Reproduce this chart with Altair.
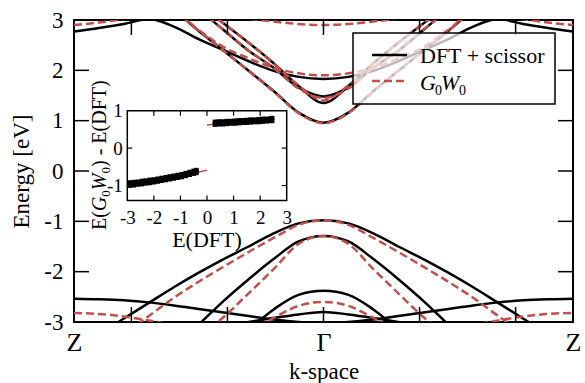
import altair as alt
import pandas as pd

# ---------------- data ----------------
K = [-1.0, -0.9, -0.8, -0.7, -0.6, -0.5, -0.4, -0.3, -0.2, -0.1, 0.0,
     0.1, 0.2, 0.3, 0.4, 0.5, 0.6, 0.7, 0.8, 0.9, 1.0]

DFT_P = [2.77, 2.84, 2.92, 3.02, 2.87, 2.62, 2.40, 2.18, 1.99, 1.87, 1.83, 1.87, 1.99, 2.18, 2.40, 2.62, 2.87, 3.02, 2.92, 2.84, 2.77]
DFT_Q = [3.90, 3.85, 3.70, 3.50, 3.20, 2.78, 2.39, 1.99, 1.59, 1.16, 0.96, 1.16, 1.59, 1.99, 2.39, 2.78, 3.20, 3.50, 3.70, 3.85, 3.90]
DFT_R = [4.00, 3.95, 3.85, 3.70, 3.50, 3.20, 2.80, 2.39, 2.05, 1.66, 1.48, 1.66, 2.05, 2.39, 2.80, 3.20, 3.50, 3.70, 3.85, 3.95, 4.00]
DFT_S = [4.10, 4.05, 3.95, 3.80, 3.60, 3.30, 2.93, 2.55, 2.14, 1.69, 1.35, 1.69, 2.14, 2.55, 2.93, 3.30, 3.60, 3.80, 3.95, 4.05, 4.10]
DFT_V1 = [-3.55, -3.25, -2.93, -2.62, -2.31, -2.02, -1.75, -1.50, -1.24, -1.04, -0.98, -1.04, -1.24, -1.50, -1.75, -2.02, -2.31, -2.62, -2.93, -3.25, -3.55]
DFT_V2 = [-4.40, -4.20, -4.00, -3.80, -3.50, -3.05, -2.58, -2.15, -1.75, -1.40, -1.29, -1.40, -1.75, -2.15, -2.58, -3.05, -3.50, -3.80, -4.00, -4.20, -4.40]
DFT_V3 = [-4.80, -4.60, -4.40, -4.20, -4.00, -3.80, -3.50, -3.15, -2.75, -2.46, -2.38, -2.46, -2.75, -3.15, -3.50, -3.80, -4.00, -4.20, -4.40, -4.60, -4.80]
DFT_V4 = [-3.70, -3.60, -3.50, -3.40, -3.30, -3.20, -3.10, -3.00, -2.92, -2.85, -2.80, -2.85, -2.92, -3.00, -3.10, -3.20, -3.30, -3.40, -3.50, -3.60, -3.70]
DFT_F = [-2.54, -2.55, -2.57, -2.61, -2.67, -2.74, -2.81, -2.88, -2.95, -3.00, -3.02, -3.00, -2.95, -2.88, -2.81, -2.74, -2.67, -2.61, -2.57, -2.55, -2.54]

GW_P = [2.90, 2.95, 3.02, 3.10, 3.15, 2.80, 2.46, 2.24, 2.05, 1.94, 1.90, 1.94, 2.05, 2.24, 2.46, 2.80, 3.15, 3.10, 3.02, 2.95, 2.90]
GW_Q = [3.90, 3.85, 3.70, 3.50, 3.20, 2.78, 2.39, 1.99, 1.58, 1.15, 0.95, 1.15, 1.58, 1.99, 2.39, 2.78, 3.20, 3.50, 3.70, 3.85, 3.90]
GW_R = [4.00, 3.95, 3.85, 3.70, 3.50, 3.20, 2.80, 2.39, 2.05, 1.64, 1.45, 1.64, 2.05, 2.39, 2.80, 3.20, 3.50, 3.70, 3.85, 3.95, 4.00]
GW_S = [4.10, 4.05, 3.95, 3.80, 3.60, 3.30, 2.93, 2.55, 2.14, 1.70, 1.40, 1.70, 2.14, 2.55, 2.93, 3.30, 3.60, 3.80, 3.95, 4.05, 4.10]
GW_T = [3.80, 3.70, 3.60, 3.50, 3.40, 3.25, 3.12, 3.03, 2.97, 2.92, 2.90, 2.92, 2.97, 3.03, 3.12, 3.25, 3.40, 3.50, 3.60, 3.70, 3.80]
GW_V1 = [-3.75, -3.50, -3.22, -2.88, -2.52, -2.20, -1.90, -1.61, -1.33, -1.07, -0.98, -1.07, -1.33, -1.61, -1.90, -2.20, -2.52, -2.88, -3.22, -3.50, -3.75]
GW_V2 = [-4.60, -4.40, -4.20, -4.00, -3.70, -3.30, -2.90, -2.43, -1.95, -1.45, -1.29, -1.45, -1.95, -2.43, -2.90, -3.30, -3.70, -4.00, -4.20, -4.40, -4.60]
GW_V3 = [-4.80, -4.60, -4.40, -4.20, -4.00, -3.80, -3.50, -3.20, -2.92, -2.68, -2.60, -2.68, -2.92, -3.20, -3.50, -3.80, -4.00, -4.20, -4.40, -4.60, -4.80]
GW_F = [-2.82, -2.84, -2.89, -2.97, -3.06, -3.15, -3.20, -3.22, -3.24, -3.25, -3.25, -3.25, -3.24, -3.22, -3.20, -3.15, -3.06, -2.97, -2.89, -2.84, -2.82]

K_TICKS = [-0.77, -0.385, 0.0, 0.385, 0.77]
E_TICKS = [-2, -1, 0, 1, 2]
E_LABELS = [-3, -2, -1, 0, 1, 2, 3]
K_LABEL_POS = [-1, 0, 1]

# inset data
IN_LO_X = [-2.9, -2.75, -2.6, -2.45, -2.3, -2.15, -2.0, -1.85, -1.7, -1.55, -1.4, -1.25, -1.1, -0.95, -0.8, -0.65, -0.5, -0.4]
IN_LO_Y1 = [-0.92, -0.91, -0.90, -0.88, -0.87, -0.85, -0.84, -0.82, -0.80, -0.78, -0.76, -0.74, -0.72, -0.70, -0.67, -0.64, -0.61, -0.59]
IN_LO_Y2 = [-1.00, -0.99, -0.97, -0.96, -0.94, -0.93, -0.91, -0.89, -0.87, -0.85, -0.83, -0.81, -0.79, -0.77, -0.74, -0.71, -0.68, -0.66]
IN_HI_X = [0.3, 0.45, 0.6, 0.75, 0.9, 1.05, 1.2, 1.35, 1.5, 1.65, 1.8, 1.95, 2.1, 2.25, 2.4, 2.45]
IN_HI_Y1 = [0.70, 0.71, 0.71, 0.72, 0.72, 0.73, 0.74, 0.74, 0.75, 0.76, 0.76, 0.77, 0.78, 0.78, 0.79, 0.80]
IN_HI_Y2 = [0.63, 0.64, 0.64, 0.65, 0.66, 0.66, 0.67, 0.68, 0.68, 0.69, 0.70, 0.70, 0.71, 0.72, 0.73, 0.73]
FIT_LO_X = [-2.9, 0.0]
FIT_LO_Y = [-1.03, -0.59]
FIT_HI_X = [0.0, 2.46]
FIT_HI_Y = [0.62, 0.78]
IN_XTICKS = [-2, -1, 0, 1, 2]
IN_YTICKS = [-1, 0]
IN_XLABELS = [-3, -2, -1, 0, 1, 2, 3]
IN_YLABELS = [-1, 0, 1]

# ---------------- layout ----------------
W, H = 499, 302
FONT = "Liberation Serif"
RED = "#c1504d"
TL = 15  # main tick length

dft = {"P": DFT_P, "Q": DFT_Q, "R": DFT_R, "S": DFT_S, "V1": DFT_V1,
       "V2": DFT_V2, "V3": DFT_V3, "V4": DFT_V4, "F": DFT_F}
gw = {"P": GW_P, "Q": GW_Q, "R": GW_R, "S": GW_S, "T": GW_T, "V1": GW_V1,
      "V2": GW_V2, "V3": GW_V3, "F": GW_F}

def frame(d):
    rows = []
    for name, vals in d.items():
        for k, e in zip(K, vals):
            rows.append({"k": k, "E": e, "band": name})
    return pd.DataFrame(rows)

df_dft = frame(dft)
df_gw = frame(gw)

def xs():
    return alt.Scale(domain=[-1, 1], range=[0, W], nice=False, zero=False)

def ys():
    return alt.Scale(domain=[-3, 3], range=[H, 0], nice=False, zero=False)

x_axis = alt.Axis(orient="bottom", values=K_LABEL_POS, labelExpr="datum.value == 0 ? 'Γ' : 'Z'",
                  ticks=False, domain=False, grid=False, labelFlush=False,
                  labelOverlap=False, labelBound=False,
                  labelFont=FONT, labelFontSize=26, labelColor="black", labelPadding=7,
                  title="k-space", titleFont=FONT, titleFontSize=23,
                  titleFontWeight="normal", titleColor="black", titlePadding=5, zindex=2)
y_axis = alt.Axis(orient="left", values=E_LABELS, labelExpr="'' + datum.value",
                  ticks=False, domain=False, grid=False, labelFlush=False,
                  labelFont=FONT, labelFontSize=23, labelColor="black", labelPadding=11,
                  title="Energy [eV]", titleFont=FONT, titleFontSize=23,
                  titleFontWeight="normal", titleColor="black", titlePadding=10, zindex=2)

black_lines = alt.Chart(df_dft).mark_line(
    color="black", strokeWidth=2.5, interpolate="monotone", clip=True
).encode(
    x=alt.X("k:Q", scale=xs(), axis=x_axis),
    y=alt.Y("E:Q", scale=ys(), axis=y_axis),
    detail="band:N",
)
red_lines = alt.Chart(df_gw).mark_line(
    color=RED, strokeWidth=2.5, strokeDash=[8, 4], interpolate="monotone", clip=True
).encode(
    x=alt.X("k:Q", scale=xs(), axis=None),
    y=alt.Y("E:Q", scale=ys(), axis=None),
    detail="band:N",
)

ek = pd.DataFrame({"E": E_TICKS})
kk = pd.DataFrame({"k": K_TICKS})
tick_l = alt.Chart(ek).mark_rule(color="black", strokeWidth=1.5).encode(
    y=alt.Y("E:Q", scale=ys(), axis=None), x=alt.value(0), x2=alt.value(TL))
tick_r = alt.Chart(ek).mark_rule(color="black", strokeWidth=1.5).encode(
    y=alt.Y("E:Q", scale=ys(), axis=None), x=alt.value(W - TL), x2=alt.value(W))
tick_b = alt.Chart(kk).mark_rule(color="black", strokeWidth=1.5).encode(
    x=alt.X("k:Q", scale=xs(), axis=None), y=alt.value(H - TL), y2=alt.value(H))
tick_t = alt.Chart(kk).mark_rule(color="black", strokeWidth=1.5).encode(
    x=alt.X("k:Q", scale=xs(), axis=None), y=alt.value(0), y2=alt.value(TL))

dummy = pd.DataFrame({"a": [0]})
leg_box = alt.Chart(dummy).mark_rect(fill="white", fillOpacity=0.72, stroke="black",
                                     strokeWidth=1.5).encode(
    x=alt.value(279), x2=alt.value(481), y=alt.value(13), y2=alt.value(84))
leg_l1 = alt.Chart(dummy).mark_rule(color="black", strokeWidth=2.5).encode(
    x=alt.value(298), x2=alt.value(333), y=alt.value(35))
leg_l2 = alt.Chart(dummy).mark_rule(color=RED, strokeWidth=2.5, strokeDash=[8, 4]).encode(
    x=alt.value(298), x2=alt.value(333), y=alt.value(61))

def txt(s, x, y, size, style="normal", angle=0, align="left"):
    return alt.Chart(dummy).mark_text(
        text=s, font=FONT, fontSize=size, fontStyle=style, color="black",
        align=align, baseline="alphabetic", angle=angle
    ).encode(x=alt.value(x), y=alt.value(y))

leg_t1 = txt("DFT + scissor", 346, 43, 22)
leg_g = txt("G", 346, 70, 22, "italic")
leg_g0 = txt("0", 361, 75, 14)
leg_w = txt("W", 367, 70, 22, "italic")
leg_w0 = txt("0", 385, 75, 14)

# ---------------- inset ----------------
IX0, IX1 = 53.3, 212.7      # inset left/right in plot pixels
IY0, IY1 = 180.5, 90.7      # inset bottom/top in plot pixels

def ixs():
    return alt.Scale(domain=[-3, 3], range=[IX0, IX1], nice=False, zero=False)

def iys():
    return alt.Scale(domain=[-1.4, 1], range=[IY0, IY1], nice=False, zero=False)

in_frame = alt.Chart(pd.DataFrame({"ed": [-3], "ed2": [3], "dd": [-1.4], "dd2": [1]})).mark_rect(
    fill="white", stroke="black", strokeWidth=1.5
).encode(
    x=alt.X("ed:Q", scale=ixs(), axis=alt.Axis(
        orient="bottom", offset=-(H - IY0), values=IN_XLABELS, labelExpr="'' + datum.value",
        ticks=False, domain=False, grid=False, labelFlush=False, labelOverlap=False,
        labelFont=FONT, labelFontSize=19, labelColor="black", labelPadding=8, title=None,
        zindex=2)),
    x2="ed2:Q",
    y=alt.Y("dd:Q", scale=iys(), axis=alt.Axis(
        orient="left", offset=-IX0, values=IN_YLABELS, labelExpr="'' + datum.value",
        ticks=False, domain=False, grid=False, labelFlush=False, labelOverlap=False,
        labelFont=FONT, labelFontSize=19, labelColor="black", labelPadding=5, title=None,
        zindex=2)),
    y2="dd2:Q",
)

pts = pd.DataFrame({"ed": IN_LO_X + IN_LO_X + IN_HI_X + IN_HI_X,
                    "dd": IN_LO_Y1 + IN_LO_Y2 + IN_HI_Y1 + IN_HI_Y2})
in_pts = alt.Chart(pts).mark_square(color="black", size=22, opacity=1).encode(
    x=alt.X("ed:Q", scale=ixs(), axis=None), y=alt.Y("dd:Q", scale=iys(), axis=None))

fit = pd.DataFrame({"ed": FIT_LO_X + FIT_HI_X, "dd": FIT_LO_Y + FIT_HI_Y,
                    "seg": ["lo", "lo", "hi", "hi"]})
in_fit = alt.Chart(fit).mark_line(color=RED, strokeWidth=1.5).encode(
    x=alt.X("ed:Q", scale=ixs(), axis=None), y=alt.Y("dd:Q", scale=iys(), axis=None),
    detail="seg:N")

ixk = pd.DataFrame({"ed": IN_XTICKS})
iyk = pd.DataFrame({"dd": IN_YTICKS})
ITL = 5
in_tb = alt.Chart(ixk).mark_rule(color="black", strokeWidth=1.2).encode(
    x=alt.X("ed:Q", scale=ixs(), axis=None), y=alt.value(IY0 - ITL), y2=alt.value(IY0))
in_tt = alt.Chart(ixk).mark_rule(color="black", strokeWidth=1.2).encode(
    x=alt.X("ed:Q", scale=ixs(), axis=None), y=alt.value(IY1), y2=alt.value(IY1 + ITL))
in_tl = alt.Chart(iyk).mark_rule(color="black", strokeWidth=1.2).encode(
    y=alt.Y("dd:Q", scale=iys(), axis=None), x=alt.value(IX0), x2=alt.value(IX0 + ITL))
in_tr = alt.Chart(iyk).mark_rule(color="black", strokeWidth=1.2).encode(
    y=alt.Y("dd:Q", scale=iys(), axis=None), x=alt.value(IX1 - ITL), x2=alt.value(IX1))

# inset axis titles (plot pixel coordinates)
in_xt = txt("E(DFT)", 133, 227, 22, align="center")
ty = 32  # baseline x of rotated title
in_y1 = txt("E(", ty, 210, 20, angle=270)
in_y2 = txt("G", ty, 191.1, 20, "italic", angle=270)
in_y3 = txt("0", ty + 4, 176.7, 13, angle=270)
in_y4 = txt("W", ty, 170.2, 20, "italic", angle=270)
in_y5 = txt("0", ty + 4, 153.5, 13, angle=270)
in_y6 = txt(") - E(DFT)", ty, 147, 20, angle=270)

chart = alt.layer(
    black_lines, red_lines, tick_l, tick_r, tick_b, tick_t,
    leg_box, leg_l1, leg_l2, leg_t1, leg_g, leg_g0, leg_w, leg_w0,
    in_frame, in_fit, in_pts, in_tb, in_tt, in_tl, in_tr,
    in_xt, in_y1, in_y2, in_y3, in_y4, in_y5, in_y6,
).resolve_scale(
    x="independent", y="independent"
).properties(
    width=W, height=H,
    padding={"left": 74, "top": 20, "right": 12, "bottom": 61},
    autosize=alt.AutoSizeParams(type="none"),
    background="white",
).configure_view(
    stroke="black", strokeWidth=2
).configure_axis(
    labelFont=FONT, titleFont=FONT, labelColor="black", titleColor="black"
)

chart.save("out.html", embed_options={"renderer": "svg", "actions": False})
